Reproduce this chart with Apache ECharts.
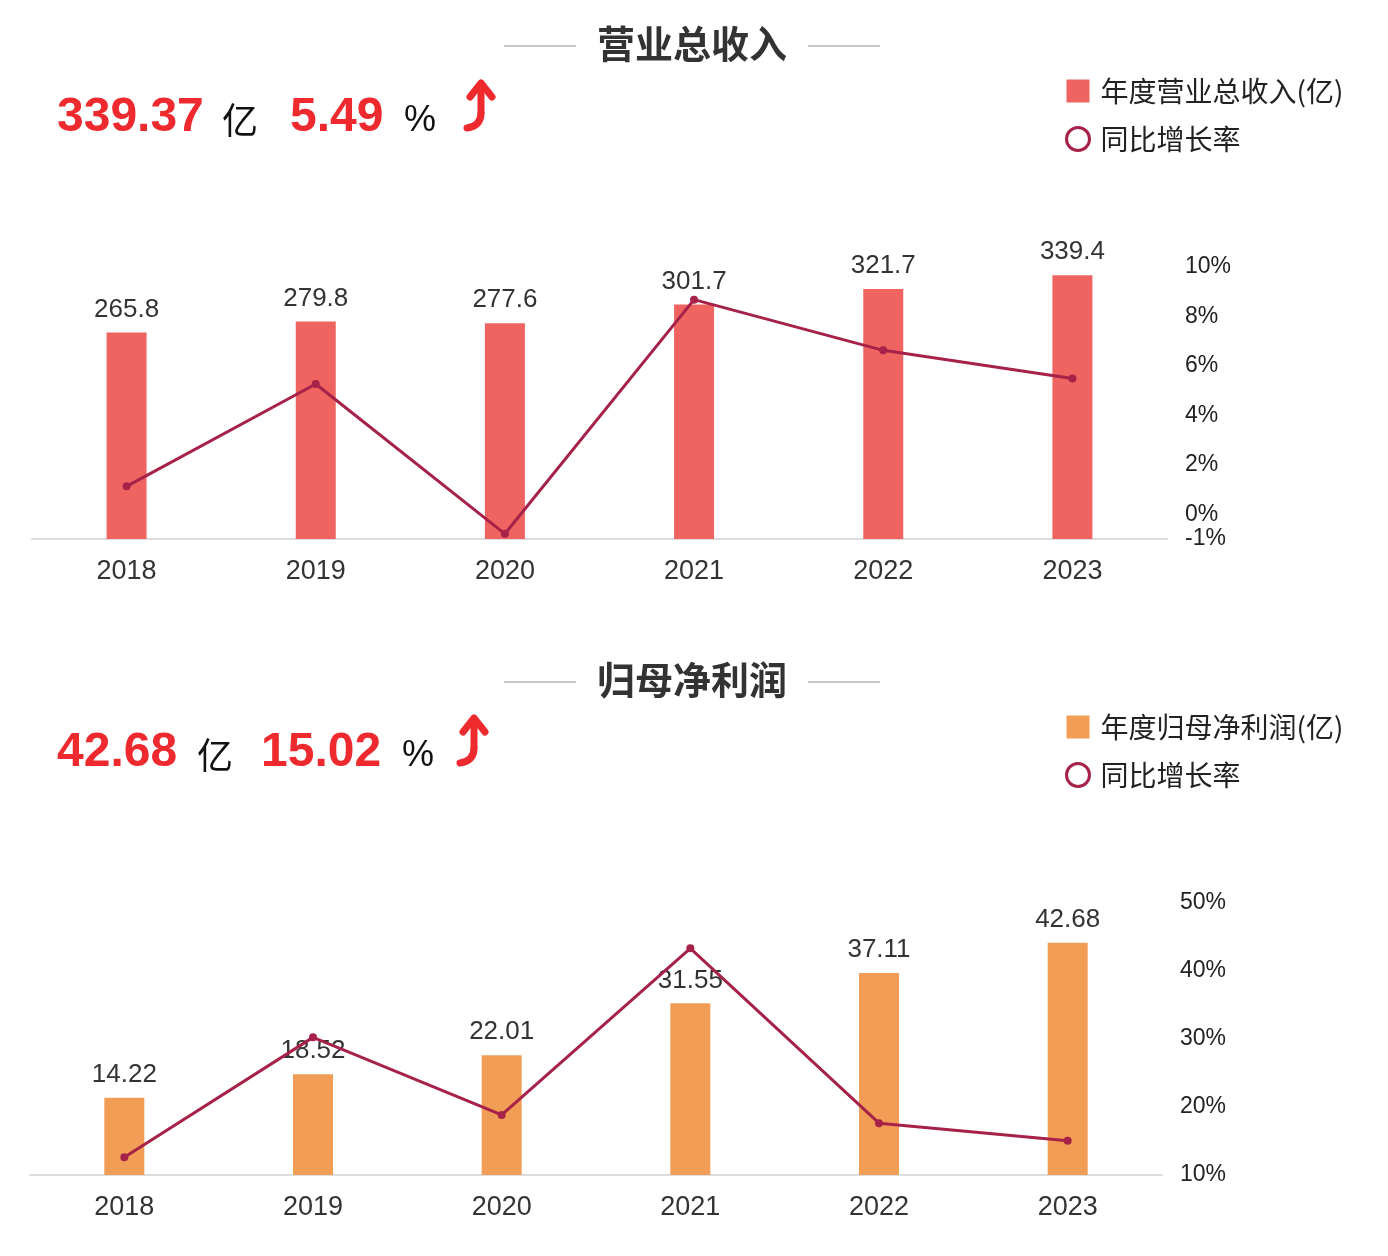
<!DOCTYPE html>
<html>
<head>
<meta charset="utf-8">
<script src="https://cdn.jsdelivr.net/npm/echarts@6/dist/echarts.min.js"></script>
<style>
  html, body { margin: 0; padding: 0; background: #fff; }
  #chart { width: 1388px; height: 1256px; }
</style>
</head>
<body>
<div id="chart"></div>
<script>
var years = ['2018', '2019', '2020', '2021', '2022', '2023'];
var revenue = [265.8, 279.8, 277.6, 301.7, 321.7, 339.4];
var revenueYoy = [1.13, 5.27, -0.79, 8.68, 6.63, 5.49];
var profit = [14.22, 18.52, 22.01, 31.55, 37.11, 42.68];
var profitYoy = [12.6, 30.24, 18.84, 43.34, 17.62, 15.02];
var revTicks = [-1, 0, 2, 4, 6, 8, 10];

var FONT = '"Liberation Sans", "Noto Sans CJK SC", sans-serif';
var CJK = '"Noto Sans CJK SC", sans-serif';
var RED = '#EE2A2F';
var LINE = '#A62249';

// curved red up-arrow, drawn around (dx, dy)
function arrow(dx, dy) {
    var st = { fill: null, stroke: RED, lineWidth: 7, lineCap: 'round', lineJoin: 'round' };
    return [
        { type: 'polyline', x: dx, y: dy, shape: { points: [[481, 85], [481, 113]] }, style: st },
        { type: 'bezierCurve', x: dx, y: dy, shape: { x1: 481, y1: 113, x2: 467, y2: 128, cpx1: 481, cpy1: 126 }, style: st },
        { type: 'polyline', x: dx, y: dy, shape: { points: [[470, 97], [481, 83], [492, 97]] }, style: st }
    ];
}

function header(y0, big, pct, xs) {
    return [
        { type: 'text', style: { text: big, x: xs[0], y: y0, font: 'bold 48px ' + FONT, fill: RED, verticalAlign: 'middle' } },
        { type: 'text', style: { text: '亿', x: xs[1], y: y0 + 2, font: '36px ' + CJK, fill: '#111', verticalAlign: 'middle' } },
        { type: 'text', style: { text: pct, x: xs[2], y: y0, font: 'bold 48px ' + FONT, fill: RED, verticalAlign: 'middle' } },
        { type: 'text', style: { text: '%', x: xs[3], y: y0 + 3, font: '36px ' + FONT, fill: '#111', verticalAlign: 'middle' } }
    ].concat(arrow(xs[4], y0 - 118));
}

function titleBlock(y, text) {
    return [
        { type: 'line', shape: { x1: 504, y1: y + 2, x2: 576, y2: y + 2 }, style: { stroke: '#c8c8c8', lineWidth: 2 } },
        { type: 'line', shape: { x1: 808, y1: y + 2, x2: 880, y2: y + 2 }, style: { stroke: '#c8c8c8', lineWidth: 2 } },
        { type: 'text', style: { text: text, x: 692, y: y, font: 'bold 38px ' + CJK, fill: '#333', align: 'center', verticalAlign: 'middle' } }
    ];
}

function legendFor(top, barName, lineName) {
    return {
        orient: 'vertical', left: 1060, top: top, itemWidth: 23, itemHeight: 23, itemGap: 20,
        textStyle: { fontSize: 28, color: '#222', fontFamily: CJK, padding: [0, 0, 0, 6] },
        data: [
            { name: barName, icon: 'rect' },
            { name: lineName, icon: 'circle', itemStyle: { color: '#fff', borderColor: LINE, borderWidth: 3 } }
        ]
    };
}

var chart = echarts.init(document.getElementById('chart'));

var option = {
    animation: false,
    textStyle: { fontFamily: FONT },
    graphic: [].concat(
        titleBlock(44, '营业总收入'),
        header(118, '339.37', '5.49', [57, 222, 290, 404, 0]),
        titleBlock(680, '归母净利润'),
        header(753, '42.68', '15.02', [57, 197, 261, 402, -7])
    ),
    legend: [
        legendFor(72, '年度营业总收入(亿)', '同比增长率'),
        legendFor(708, '年度归母净利润(亿)', '同比增长率 ')
    ],
    grid: [
        { left: 32, right: 221, top: 267, height: 272 },
        { left: 30, right: 226, top: 903, height: 272 }
    ],
    xAxis: [0, 1].map(function (i) {
        return {
            type: 'category', gridIndex: i, data: years,
            axisLine: { lineStyle: { color: '#dddddd', width: 2 } },
            axisTick: { show: false },
            axisLabel: { color: '#333', fontSize: 27, margin: 19 }
        };
    }),
    yAxis: [
        { type: 'value', gridIndex: 0, min: 0, max: 350, show: false },
        {
            type: 'value', gridIndex: 0, position: 'right', min: -1, max: 10, interval: 1,
            axisLine: { show: false }, axisTick: { show: false }, splitLine: { show: false },
            axisLabel: {
                color: '#222', fontSize: 23, margin: 18,
                formatter: function (v) { return revTicks.indexOf(v) >= 0 ? v + '%' : ''; }
            }
        },
        { type: 'value', gridIndex: 1, min: 0, max: 50, show: false },
        {
            type: 'value', gridIndex: 1, position: 'right', min: 10, max: 50, interval: 10,
            axisLine: { show: false }, axisTick: { show: false }, splitLine: { show: false },
            axisLabel: { color: '#222', fontSize: 23, margin: 18, formatter: '{value}%' }
        }
    ],
    series: [
        {
            name: '年度营业总收入(亿)', type: 'bar', xAxisIndex: 0, yAxisIndex: 0, data: revenue,
            barWidth: 40, itemStyle: { color: '#EF6460' },
            label: { show: true, position: 'top', distance: 10, color: '#333', fontSize: 26 }
        },
        {
            name: '同比增长率', type: 'line', xAxisIndex: 0, yAxisIndex: 1, data: revenueYoy,
            symbol: 'circle', symbolSize: 8, lineStyle: { color: LINE, width: 3 }, itemStyle: { color: LINE }
        },
        {
            name: '年度归母净利润(亿)', type: 'bar', xAxisIndex: 1, yAxisIndex: 2, data: profit,
            barWidth: 40, itemStyle: { color: '#F19D56' },
            label: { show: true, position: 'top', distance: 10, color: '#333', fontSize: 26 }
        },
        {
            name: '同比增长率 ', type: 'line', xAxisIndex: 1, yAxisIndex: 3, data: profitYoy,
            symbol: 'circle', symbolSize: 8, lineStyle: { color: LINE, width: 3 }, itemStyle: { color: LINE },
            z: 5
        }
    ]
};

chart.setOption(option);
</script>
</body>
</html>
